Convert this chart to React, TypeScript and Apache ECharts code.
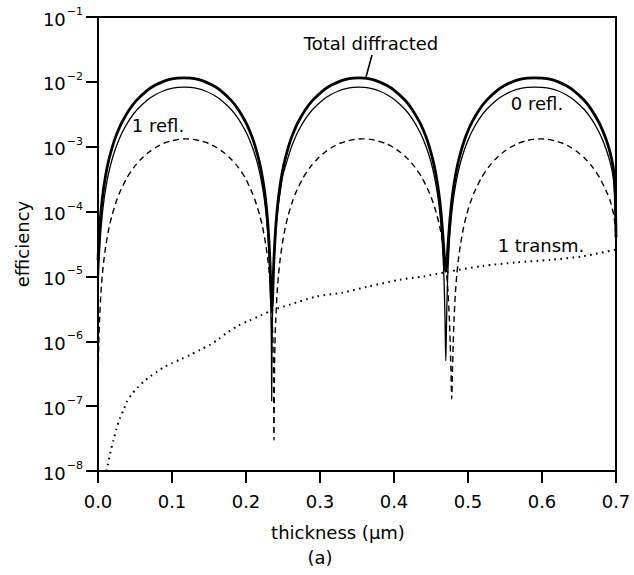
import React, { useEffect, useRef } from "react";
import * as echarts from "echarts";

// thickness (µm) vs efficiency
const totalDiffracted: [number, number][] = [
  [0, 1.8e-5], [0.002, 5.1e-5], [0.004, 1.0e-4], [0.006, 1.66e-4], [0.009, 2.93e-4], [0.013, 5.2e-4],
  [0.017, 8.0e-4], [0.022, 1.24e-3], [0.027, 1.75e-3], [0.032, 2.34e-3], [0.042, 3.68e-3], [0.052, 5.18e-3],
  [0.067, 7.45e-3], [0.077, 8.84e-3], [0.087, 1.0e-2], [0.097, 1.09e-2], [0.107, 1.14e-2], [0.116, 1.15e-2],
  [0.125, 1.14e-2], [0.135, 1.09e-2], [0.145, 1.0e-2],
  [0.155, 8.84e-3], [0.165, 7.45e-3], [0.18, 5.18e-3], [0.19, 3.68e-3], [0.2, 2.34e-3], [0.205, 1.75e-3],
  [0.21, 1.24e-3], [0.215, 8.0e-4], [0.219, 5.2e-4], [0.223, 2.96e-4], [0.226, 1.69e-4], [0.228, 1.03e-4],
  [0.23, 5.4e-5], [0.232, 2.15e-5], [0.233, 1.1e-5], [0.234, 5.0e-6], [0.235, 3.1e-6],
  [0.236, 5.0e-6], [0.237, 1.1e-5], [0.238, 2.15e-5], [0.24, 5.4e-5], [0.242, 1.03e-4], [0.244, 1.69e-4],
  [0.247, 2.96e-4], [0.251, 5.2e-4], [0.255, 8.0e-4], [0.26, 1.24e-3], [0.265, 1.75e-3], [0.27, 2.34e-3],
  [0.28, 3.68e-3], [0.29, 5.18e-3], [0.305, 7.45e-3], [0.315, 8.84e-3], [0.325, 1.0e-2], [0.335, 1.09e-2],
  [0.345, 1.14e-2], [0.3525, 1.15e-2], [0.36, 1.14e-2], [0.37, 1.09e-2], [0.38, 1.0e-2], [0.39, 8.84e-3],
  [0.4, 7.45e-3], [0.415, 5.19e-3], [0.425, 3.69e-3], [0.435, 2.35e-3], [0.44, 1.76e-3], [0.445, 1.25e-3],
  [0.45, 8.1e-4], [0.454, 5.3e-4], [0.458, 3.05e-4], [0.461, 1.78e-4], [0.463, 1.12e-4], [0.465, 6.2e-5],
  [0.467, 3.0e-5], [0.468, 2.0e-5], [0.469, 1.4e-5], [0.47, 1.2e-5],
  [0.471, 1.4e-5], [0.472, 2.0e-5], [0.473, 3.1e-5], [0.475, 6.3e-5], [0.477, 1.13e-4], [0.479, 1.79e-4],
  [0.482, 3.06e-4], [0.486, 5.3e-4], [0.49, 8.1e-4], [0.495, 1.25e-3], [0.5, 1.76e-3], [0.505, 2.35e-3],
  [0.515, 3.69e-3], [0.525, 5.19e-3], [0.54, 7.46e-3], [0.55, 8.85e-3], [0.56, 1.0e-2], [0.57, 1.09e-2],
  [0.58, 1.14e-2], [0.59, 1.15e-2], [0.6, 1.14e-2], [0.612, 1.09e-2], [0.622, 1.0e-2], [0.632, 8.84e-3],
  [0.642, 7.45e-3], [0.657, 5.2e-3], [0.667, 3.7e-3], [0.677, 2.36e-3], [0.682, 1.77e-3], [0.687, 1.26e-3],
  [0.692, 8.2e-4], [0.696, 5.0e-4], [0.698, 3.0e-4], [0.6993, 1.3e-4], [0.7, 4.0e-5],
];

const zeroRefl: [number, number][] = [
  [0, 5.9e-6], [0.001, 1.33e-5], [0.003, 3.7e-5], [0.005, 7.2e-5], [0.007, 1.2e-4], [0.01, 2.12e-4],
  [0.014, 3.74e-4], [0.018, 5.8e-4], [0.023, 8.9e-4], [0.028, 1.26e-3], [0.033, 1.69e-3], [0.043, 2.66e-3],
  [0.053, 3.74e-3], [0.068, 5.38e-3], [0.078, 6.38e-3], [0.088, 7.23e-3], [0.098, 7.85e-3], [0.108, 8.22e-3],
  [0.117, 8.3e-3], [0.125, 8.22e-3], [0.135, 7.85e-3],
  [0.145, 7.23e-3], [0.155, 6.38e-3], [0.165, 5.38e-3], [0.18, 3.74e-3], [0.19, 2.66e-3], [0.2, 1.69e-3],
  [0.205, 1.26e-3], [0.21, 8.9e-4], [0.215, 5.8e-4], [0.219, 3.74e-4], [0.223, 2.12e-4], [0.226, 1.2e-4],
  [0.228, 7.2e-5], [0.23, 3.7e-5], [0.232, 1.33e-5], [0.233, 5.9e-6], [0.234, 1.6e-6], [0.2344, 6e-7],
  [0.2347, 1.2e-7], [0.235, 6e-7], [0.2355, 1.6e-6], [0.2365, 5.9e-6], [0.2375, 1.33e-5], [0.2395, 3.7e-5],
  [0.2415, 7.2e-5], [0.2435, 1.2e-4], [0.2465, 2.12e-4], [0.25, 3.74e-4], [0.255, 5.8e-4], [0.26, 8.9e-4],
  [0.265, 1.26e-3], [0.27, 1.69e-3], [0.28, 2.66e-3], [0.29, 3.74e-3], [0.305, 5.38e-3], [0.315, 6.38e-3],
  [0.325, 7.23e-3], [0.335, 7.85e-3], [0.345, 8.22e-3], [0.3525, 8.3e-3], [0.36, 8.22e-3], [0.37, 7.85e-3],
  [0.38, 7.23e-3], [0.39, 6.38e-3], [0.4, 5.38e-3], [0.415, 3.74e-3], [0.425, 2.66e-3], [0.435, 1.69e-3],
  [0.44, 1.26e-3], [0.445, 8.9e-4], [0.45, 5.8e-4], [0.454, 3.74e-4], [0.458, 2.12e-4], [0.461, 1.2e-4],
  [0.463, 7.2e-5], [0.465, 3.7e-5], [0.467, 1.35e-5], [0.468, 6.3e-6], [0.469, 2.0e-6], [0.4695, 9e-7],
  [0.47, 5e-7], [0.4705, 9e-7], [0.471, 2.0e-6], [0.472, 6.3e-6], [0.473, 1.35e-5], [0.475, 3.7e-5],
  [0.477, 7.2e-5], [0.479, 1.2e-4], [0.482, 2.12e-4], [0.486, 3.74e-4], [0.49, 5.8e-4], [0.495, 8.9e-4],
  [0.5, 1.26e-3], [0.505, 1.69e-3], [0.515, 2.66e-3], [0.525, 3.74e-3], [0.54, 5.38e-3], [0.55, 6.38e-3],
  [0.56, 7.23e-3], [0.57, 7.85e-3], [0.58, 8.22e-3], [0.59, 8.3e-3], [0.6, 8.22e-3], [0.612, 7.85e-3],
  [0.622, 7.23e-3], [0.632, 6.38e-3], [0.642, 5.38e-3], [0.657, 3.74e-3], [0.667, 2.66e-3], [0.677, 1.69e-3],
  [0.682, 1.26e-3], [0.687, 8.9e-4], [0.692, 5.8e-4], [0.696, 3.5e-4], [0.698, 2.0e-4], [0.6993, 8.0e-5],
  [0.7, 2.0e-5],
];

const oneRefl: [number, number][] = [
  [0, 2.3e-7], [0.001, 9e-7], [0.002, 2.0e-6], [0.004, 5.7e-6], [0.006, 1.1e-5], [0.008, 1.82e-5],
  [0.011, 3.2e-5], [0.015, 5.7e-5], [0.019, 8.8e-5], [0.024, 1.36e-4], [0.029, 1.93e-4], [0.039, 3.3e-4],
  [0.049, 4.9e-4], [0.059, 6.6e-4], [0.069, 8.3e-4], [0.079, 9.9e-4], [0.089, 1.13e-3], [0.099, 1.23e-3],
  [0.109, 1.3e-3], [0.119, 1.32e-3], [0.129, 1.3e-3], [0.139, 1.23e-3], [0.149, 1.13e-3], [0.159, 9.9e-4],
  [0.169, 8.3e-4], [0.179, 6.6e-4], [0.189, 4.9e-4], [0.199, 3.3e-4], [0.2085, 1.93e-4], [0.2135, 1.36e-4],
  [0.2185, 8.8e-5], [0.2225, 5.7e-5], [0.2265, 3.2e-5], [0.2295, 1.82e-5], [0.2315, 1.1e-5], [0.2335, 5.7e-6],
  [0.2355, 2.0e-6], [0.2365, 9e-7], [0.2372, 2.6e-7], [0.2378, 3e-8], [0.2384, 2.6e-7], [0.2391, 9e-7],
  [0.2401, 2.0e-6], [0.2421, 5.7e-6], [0.2441, 1.1e-5], [0.2461, 1.82e-5], [0.2491, 3.2e-5], [0.2531, 5.7e-5],
  [0.2571, 8.8e-5], [0.2621, 1.36e-4], [0.2671, 1.93e-4], [0.2771, 3.3e-4], [0.2871, 4.9e-4], [0.2971, 6.6e-4],
  [0.3071, 8.3e-4], [0.3171, 9.9e-4], [0.3271, 1.13e-3], [0.3371, 1.23e-3], [0.3471, 1.3e-3], [0.358, 1.32e-3],
  [0.368, 1.3e-3], [0.378, 1.23e-3], [0.388, 1.13e-3], [0.398, 9.9e-4], [0.408, 8.3e-4], [0.418, 6.6e-4],
  [0.428, 4.9e-4], [0.438, 3.3e-4], [0.448, 1.93e-4], [0.453, 1.36e-4], [0.458, 8.8e-5], [0.462, 5.7e-5],
  [0.466, 3.2e-5], [0.469, 1.82e-5], [0.471, 1.1e-5], [0.473, 5.7e-6], [0.475, 2.0e-6], [0.476, 9e-7],
  [0.477, 3.5e-7], [0.478, 1.3e-7], [0.479, 3.5e-7], [0.48, 9e-7], [0.481, 2.0e-6], [0.483, 5.7e-6],
  [0.485, 1.1e-5], [0.487, 1.82e-5], [0.49, 3.2e-5], [0.494, 5.7e-5], [0.498, 8.8e-5], [0.503, 1.36e-4],
  [0.508, 1.93e-4], [0.518, 3.3e-4], [0.528, 4.9e-4], [0.538, 6.6e-4], [0.548, 8.3e-4], [0.558, 9.9e-4],
  [0.568, 1.13e-3], [0.578, 1.23e-3], [0.588, 1.3e-3], [0.598, 1.32e-3], [0.608, 1.3e-3], [0.618, 1.23e-3],
  [0.628, 1.13e-3], [0.638, 9.9e-4], [0.648, 8.3e-4], [0.658, 6.6e-4], [0.668, 4.9e-4], [0.678, 3.3e-4],
  [0.688, 1.93e-4], [0.693, 1.36e-4], [0.697, 8.8e-5], [0.6995, 5.0e-5], [0.7, 3.0e-5],
];

const oneTransm: [number, number][] = [
  [0.011, 1.0e-8], [0.013, 1.2e-8], [0.017, 2.0e-8], [0.021, 3.0e-8], [0.025, 4.5e-8], [0.03, 6.7e-8],
  [0.035, 9.0e-8], [0.039, 1.17e-7], [0.045, 1.5e-7], [0.053, 1.9e-7], [0.062, 2.4e-7], [0.071, 2.9e-7],
  [0.08, 3.4e-7], [0.089, 4.0e-7], [0.1, 4.6e-7], [0.112, 5.3e-7], [0.125, 6.2e-7], [0.138, 7.4e-7],
  [0.152, 8.9e-7], [0.163, 1.08e-6], [0.174, 1.35e-6], [0.19, 1.75e-6], [0.205, 2.1e-6], [0.22, 2.5e-6],
  [0.235, 3.0e-6], [0.26, 3.7e-6], [0.295, 4.9e-6], [0.33, 5.6e-6], [0.363, 6.9e-6], [0.408, 8.9e-6],
  [0.44, 1.0e-5], [0.471, 1.17e-5], [0.52, 1.45e-5], [0.566, 1.65e-5], [0.611, 1.8e-5], [0.656, 2.05e-5],
  [0.7, 2.6e-5],
];

const xTickValues = [0, 0.1, 0.2, 0.3, 0.4, 0.5, 0.6, 0.7];

const FONT = "DejaVu Sans";

export default function App() {
  const ref = useRef<HTMLDivElement>(null);
  useEffect(() => {
    if (!ref.current) return;
    const chart = echarts.init(ref.current, undefined, { renderer: "svg" });
    const lineBase = { type: "line", showSymbol: false, symbol: "none", smooth: 0.25, silent: true };
    chart.setOption({
      animation: false,
      backgroundColor: "#fff",
      grid: { left: 98, top: 17, width: 518, height: 454, show: true, borderColor: "#000", borderWidth: 2, backgroundColor: "transparent" },
      xAxis: {
        type: "value",
        min: xTickValues[0],
        max: xTickValues[xTickValues.length - 1],
        interval: 0.1,
        axisLine: { show: true, onZero: false, lineStyle: { color: "#000", width: 2 } },
        axisTick: { show: true, inside: false, length: 12, lineStyle: { color: "#000", width: 2 } },
        axisLabel: { color: "#000", fontFamily: FONT, fontSize: 18, margin: 21, formatter: (v: number) => v.toFixed(1) },
        splitLine: { show: false },
      },
      yAxis: {
        type: "log",
        logBase: 10,
        min: 1e-8,
        max: 1e-1,
        interval: 1,
        axisLine: { show: true, lineStyle: { color: "#000", width: 2 } },
        axisTick: { show: true, inside: false, length: 12, lineStyle: { color: "#000", width: 2 } },
        minorTick: { show: false },
        splitLine: { show: false },
        axisLabel: {
          margin: 15,
          color: "#000",
          formatter: (v: number) => `{b|10}{s|−${Math.round(-Math.log10(v))}}`,
          rich: {
            b: { fontFamily: FONT, fontSize: 18, color: "#000", verticalAlign: "bottom", lineHeight: 22 },
            s: { fontFamily: FONT, fontSize: 11, color: "#000", verticalAlign: "top", lineHeight: 22, padding: [0, 0, 0, 1] },
          },
        },
      },
      series: [
        { ...lineBase, name: "Total diffracted", data: totalDiffracted, lineStyle: { color: "#000", width: 2.8 } },
        { ...lineBase, name: "0 refl.", data: zeroRefl, lineStyle: { color: "#000", width: 1.3 } },
        { ...lineBase, name: "1 refl.", data: oneRefl, lineStyle: { color: "#000", width: 1.4, type: [6, 4] } },
        { ...lineBase, name: "1 transm.", data: oneTransm, lineStyle: { color: "#000", width: 2, type: [1.6, 4.4] } },
      ],
      graphic: [
        { type: "text", x: 371, y: 43, style: { text: "Total diffracted", fontFamily: FONT, fontSize: 18, fill: "#000", align: "center", verticalAlign: "middle" } },
        { type: "line", shape: { x1: 372, y1: 55, x2: 366, y2: 77 }, style: { stroke: "#000", lineWidth: 1.6 } },
        { type: "text", x: 537, y: 103, style: { text: "0 refl.", fontFamily: FONT, fontSize: 18, fill: "#000", align: "center", verticalAlign: "middle" } },
        { type: "text", x: 158, y: 125, style: { text: "1 refl.", fontFamily: FONT, fontSize: 18, fill: "#000", align: "center", verticalAlign: "middle" } },
        { type: "text", x: 541, y: 245, style: { text: "1 transm.", fontFamily: FONT, fontSize: 18, fill: "#000", align: "center", verticalAlign: "middle" } },
        { type: "text", x: 338, y: 532, style: { text: "thickness (µm)", fontFamily: FONT, fontSize: 18, fill: "#000", align: "center", verticalAlign: "middle" } },
        { type: "text", x: 320, y: 557, style: { text: "(a)", fontFamily: FONT, fontSize: 18, fill: "#000", align: "center", verticalAlign: "middle" } },
        { type: "text", x: 22, y: 244, rotation: Math.PI / 2, style: { text: "efficiency", fontFamily: FONT, fontSize: 18, fill: "#000", align: "center", verticalAlign: "middle" } },
      ],
    });
    return () => chart.dispose();
  }, []);
  return <div ref={ref} style={{ position: "absolute", left: 0, top: 0, width: 634, height: 575 }} />;
}
